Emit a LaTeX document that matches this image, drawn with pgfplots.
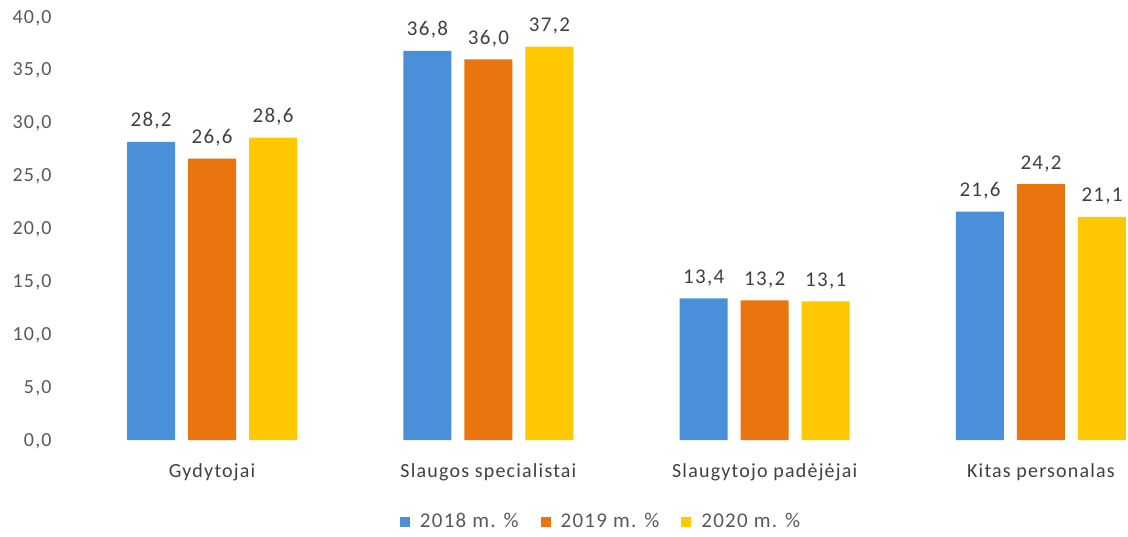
\documentclass[border=0pt]{standalone}
\usepackage{fontspec}
\setmainfont{Carlito}[LetterSpace=6]
\usepackage{pgfplots}
\pgfplotsset{compat=1.18}
\definecolor{cblue}{RGB}{74,144,217}
\definecolor{corange}{RGB}{234,116,14}
\definecolor{cyellow}{RGB}{255,200,0}
\definecolor{txt}{RGB}{64,64,64}
\definecolor{tick}{RGB}{89,89,89}
\begin{document}
\begin{tikzpicture}
\begin{axis}[name=ax,
  scale only axis, width=527pt, height=211.5pt,
  xmin=-0.5, xmax=3.315, ymin=0, ymax=40,
  clip=false,
  axis line style={draw=none},
  major tick length=0pt,
  ytick={0,5,...,40},
  xtick={0,1,2,3},
  xticklabels={Gydytojai, Slaugos specialistai, Slaugytojo padėjėjai, Kitas personalas},
  yticklabel style={anchor=base east, inner sep=0pt, xshift=-11pt, yshift=-3pt, font=\fontsize{10}{12}\selectfont, text=tick,
    /pgf/number format/.cd, fixed, fixed zerofill, precision=1, use comma, assume math mode=true},
  xticklabel style={anchor=base, inner sep=0pt, yshift=-19pt, font=\fontsize{10}{12}\selectfont, text=txt},
  ybar=6.5pt, bar width=24pt,
  nodes near coords={\pgfmathprintnumber[fixed, fixed zerofill, precision=1, use comma, assume math mode=true]{\pgfplotspointmeta}},
  nodes near coords style={anchor=base, inner sep=0pt, yshift=7.5pt, font=\fontsize{10.5}{12}\selectfont, text=txt},
  legend style={at={(0.501,-0.194)}, anchor=center, legend columns=3, draw=none, fill=none,
    font=\fontsize{10.5}{12}\selectfont, text=tick,
    /tikz/every even column/.append style={column sep=9pt}},
  legend image code/.code={\fill[#1] (0pt,-2.5pt) rectangle (5pt,2.5pt); \path (8pt,0pt);},
]
\addplot[draw=none, fill=cblue] coordinates {(0,28.2) (1,36.8) (2,13.4) (3,21.6)};
\addplot[draw=none, fill=corange] coordinates {(0,26.6) (1,36.0) (2,13.2) (3,24.2)};
\addplot[draw=none, fill=cyellow] coordinates {(0,28.6) (1,37.2) (2,13.1) (3,21.1)};
\legend{2018 m. \%, 2019 m. \%, 2020 m. \%}
\end{axis}
\pgfresetboundingbox
\path[use as bounding box] ([xshift=-37pt, yshift=-48.5pt]ax.south west) rectangle ([yshift=8.5pt]ax.north east);
\end{tikzpicture}
\end{document}
